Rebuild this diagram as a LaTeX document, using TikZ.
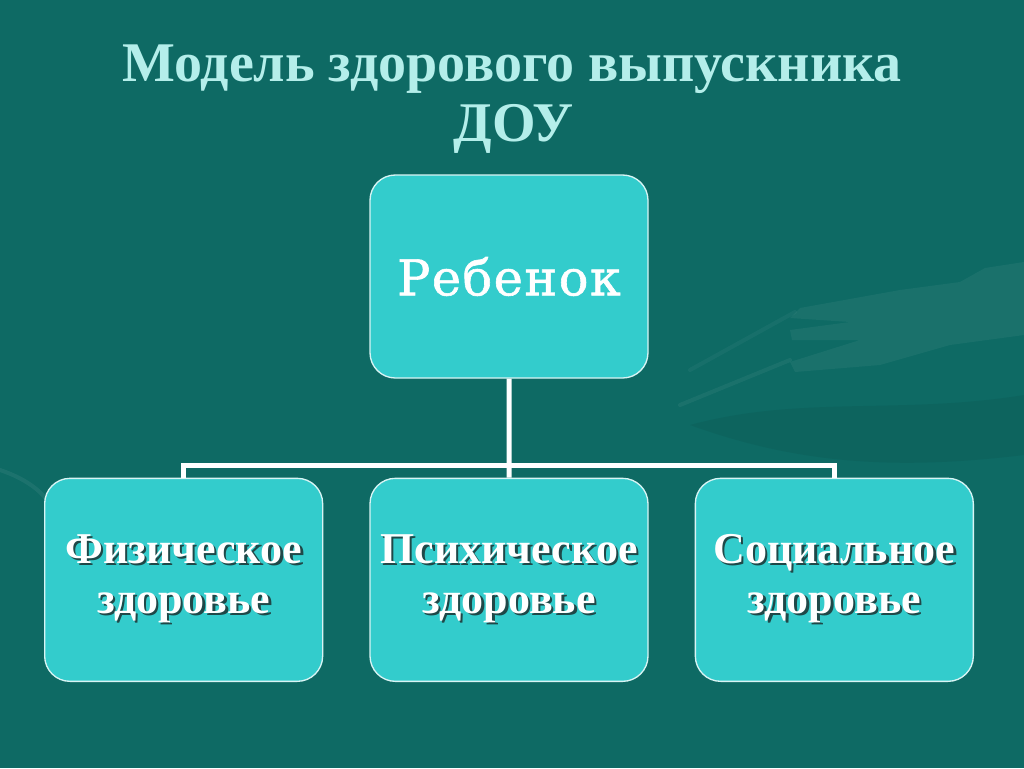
\documentclass[tikz,border=0pt]{standalone}
\usepackage{fontspec}
\setmainfont{Liberation Serif}
\newfontfamily\kidfont[LetterSpace=3, FakeBold=1.2]{DejaVu Serif}
\usepackage{xcolor}
\usetikzlibrary{positioning,calc}

\definecolor{slidebg}{HTML}{0E6A64}
\definecolor{titlecol}{HTML}{B4EEEA}
\definecolor{boxfill}{HTML}{33CCCC}
\definecolor{boxline}{HTML}{D8F4F4}
\definecolor{shadowcol}{HTML}{1F4848}
\newcommand{\shadowed}[1]{\makebox[0pt][l]{\hspace{1.8pt}\raisebox{-1.8pt}{\color{shadowcol}#1}}#1}

\begin{document}
\begin{tikzpicture}[x=0.75pt, y=-0.75pt, node distance=74.25pt and 34.5pt]
    \tikzset{
        block/.style={draw=boxline, line width=1pt, fill=boxfill, rounded corners=19pt,
            minimum width=208.5pt, minimum height=152.25pt, inner sep=0pt, text=white},
        part/.style={block, font=\bfseries\fontsize{33}{37.5}\selectfont, align=center},
        title/.style={text=titlecol, font=\bfseries\fontsize{42}{48}\selectfont, anchor=base},
        link/.style={draw=white, line width=3.75pt}
    }
    \useasboundingbox (0,0) rectangle (1024,768);
    % slide background
    \fill[slidebg] (0,0) rectangle (1024,768);
    \fill[white, opacity=0.05] (1024,262) -- (985,268) -- (960,282) -- (900,290) -- (800,308)
        -- (790,318) -- (850,322) -- (790,330) -- (792,340) -- (860,340) -- (790,362)
        -- (795,372) -- (880,365) -- (950,345) -- (1024,335) -- cycle;
    \fill[black, opacity=0.05] (690,425) .. controls (800,395) and (900,415) .. (1024,395)
        -- (1024,455) .. controls (900,470) and (800,465) .. (690,425);
    \draw[white, opacity=0.05, line width=3pt, line cap=round] (680,405) -- (790,360);
    \draw[white, opacity=0.04, line width=3pt, line cap=round] (690,370) -- (795,312);
    \draw[white, opacity=0.06, line width=3pt, line cap=round] (0,470) .. controls (30,480) and (45,495) .. (50,505);

    \node [title] (title) at (512,81) {Модель здорового выпускника};
    \node [title] (titleb) at (514,141) {ДОУ};

    \node [block, font=\kidfont\fontsize{37}{42}\selectfont] (kid) at (509,276.5) {Ребенок};
    \node [part, below=of kid] (psy) {\shadowed{Психическое}\\\shadowed{здоровье}};
    \node [part, left=of psy] (phys) {\shadowed{Физическое}\\\shadowed{здоровье}};
    \node [part, right=of psy] (soc) {\shadowed{Социальное}\\\shadowed{здоровье}};

    \coordinate (fork) at ($(kid.south)!0.879!(psy.north)$);
    \draw [link] (kid.south) -- (fork);
    \draw [link] (phys.north) |- (fork) -| (soc.north);
    \draw [link] (fork) -- (psy.north);
\end{tikzpicture}
\end{document}
